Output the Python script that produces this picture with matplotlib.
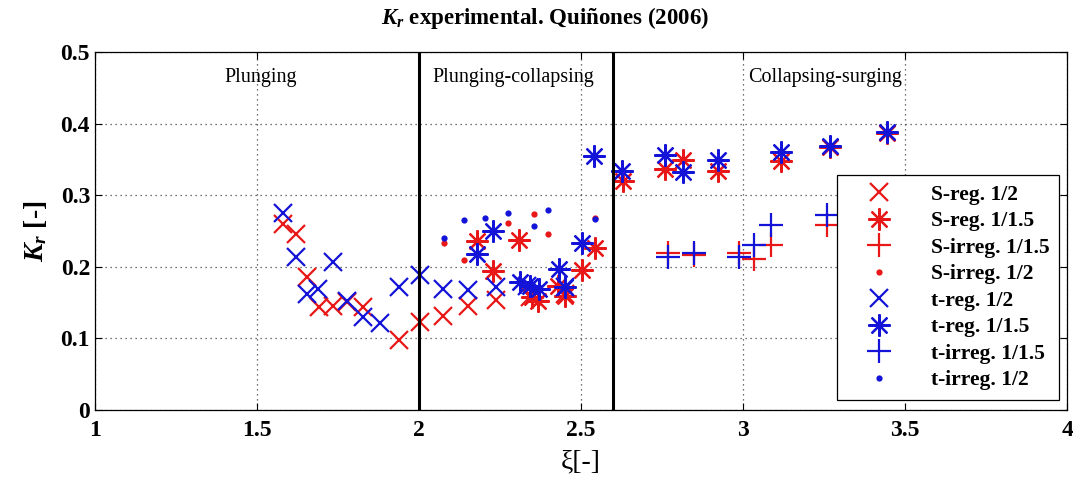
import matplotlib
matplotlib.use("Agg")
import matplotlib.pyplot as plt

plt.rcParams['font.family'] = ['Liberation Serif', 'DejaVu Serif']
plt.rcParams['mathtext.fontset'] = 'custom'
plt.rcParams['mathtext.it'] = 'Liberation Serif:italic:bold'
plt.rcParams['mathtext.rm'] = 'Liberation Serif:bold'
plt.rcParams['mathtext.bf'] = 'Liberation Serif:bold'

# ---- data ----
sreg2_x = [1.581, 1.619, 1.653, 1.692, 1.736, 1.777, 1.828, 1.939, 2.003, 2.073, 2.152, 2.238, 2.343, 2.451]
sreg2_y = [0.260, 0.246, 0.186, 0.144, 0.145, 0.151, 0.144, 0.098, 0.123, 0.132, 0.146, 0.154, 0.158, 0.162]

sreg15_x = [2.178, 2.229, 2.310, 2.348, 2.368, 2.430, 2.451, 2.504, 2.543, 2.628, 2.759, 2.814, 2.924, 3.117, 3.269, 3.443]
sreg15_y = [0.236, 0.194, 0.237, 0.158, 0.153, 0.173, 0.160, 0.196, 0.227, 0.320, 0.337, 0.350, 0.334, 0.348, 0.367, 0.387]

sirr15_x = [2.769, 2.850, 2.986, 3.034, 3.085, 3.258]
sirr15_y = [0.219, 0.217, 0.220, 0.211, 0.231, 0.259]

sirr2_x = [2.078, 2.140, 2.276, 2.356, 2.397, 2.543]
sirr2_y = [0.233, 0.209, 0.261, 0.274, 0.246, 0.269]

treg2_x = [1.581, 1.619, 1.653, 1.689, 1.736, 1.777, 1.828, 1.880, 1.939, 2.003, 2.073, 2.152, 2.238, 2.332, 2.451]
treg2_y = [0.276, 0.2145, 0.1625, 0.1695, 0.2066, 0.153, 0.130, 0.121, 0.172, 0.188, 0.169, 0.168, 0.172, 0.174, 0.172]

treg15_x = [2.178, 2.229, 2.312, 2.343, 2.370, 2.432, 2.451, 2.504, 2.540, 2.625, 2.759, 2.814, 2.924, 3.117, 3.269, 3.443]
treg15_y = [0.218, 0.250, 0.179, 0.173, 0.169, 0.197, 0.172, 0.234, 0.355, 0.334, 0.357, 0.332, 0.350, 0.361, 0.369, 0.389]

tirr15_x = [2.769, 2.850, 2.986, 3.034, 3.085, 3.258]
tirr15_y = [0.2135, 0.219, 0.2135, 0.230, 0.258, 0.272]

tirr2_x = [2.078, 2.140, 2.205, 2.276, 2.356, 2.397, 2.543]
tirr2_y = [0.241, 0.265, 0.269, 0.275, 0.257, 0.280, 0.267]

labels = ['S-reg. 1/2', 'S-reg. 1/1.5', 'S-irreg. 1/1.5', 'S-irreg. 1/2',
          't-reg. 1/2', 't-reg. 1/1.5', 't-irreg. 1/1.5', 't-irreg. 1/2']
xticks = [1, 1.5, 2, 2.5, 3, 3.5, 4]
xticklabels = ['1', '1.5', '2', '2.5', '3', '3.5', '4']
yticks = [0, 0.1, 0.2, 0.3, 0.4, 0.5]
yticklabels = ['0', '0.1', '0.2', '0.3', '0.4', '0.5']
regimes = ['Plunging', 'Plunging-collapsing', 'Collapsing-surging']
regime_x = [1.40, 2.04, 3.015]
bounds = [2.0, 2.6]

RED = '#e81818'
BLUE = '#1414d8'
ast = (8, 2, 0)

fig = plt.figure(figsize=(10.73, 4.79), dpi=100)
ax = fig.add_axes([0.0885, 0.144, 0.906, 0.747])

mw = 1.6
ax.plot(sreg2_x, sreg2_y, ls='none', marker='x', ms=13, mew=mw, color=RED, label=labels[0])
ax.plot(sreg15_x, sreg15_y, ls='none', marker=ast, ms=16, mew=mw, color=RED, label=labels[1])
ax.plot(sirr15_x, sirr15_y, ls='none', marker='+', ms=17, mew=mw, color=RED, label=labels[2])
ax.plot(sirr2_x, sirr2_y, ls='none', marker='o', ms=4.5, mew=0, color=RED, label=labels[3])
ax.plot(treg2_x, treg2_y, ls='none', marker='x', ms=13, mew=mw, color=BLUE, label=labels[4])
ax.plot(treg15_x, treg15_y, ls='none', marker=ast, ms=16, mew=mw, color=BLUE, label=labels[5])
ax.plot(tirr15_x, tirr15_y, ls='none', marker='+', ms=17, mew=mw, color=BLUE, label=labels[6])
ax.plot(tirr2_x, tirr2_y, ls='none', marker='o', ms=4.5, mew=0, color=BLUE, label=labels[7])

for b in bounds:
    ax.axvline(b, color='black', lw=2.2)
for t, xx in zip(regimes, regime_x):
    ax.text(xx, 0.465, t, fontsize=14.5, ha='left', va='center')

ax.set_xlim(1, 4)
ax.set_ylim(0, 0.5)
ax.set_xticks(xticks)
ax.set_xticklabels(xticklabels, fontsize=17, fontweight='bold')
ax.set_yticks(yticks)
ax.set_yticklabels(yticklabels, fontsize=17, fontweight='bold')
ax.tick_params(axis='x', pad=7)
ax.tick_params(direction='in', top=True, right=True, length=5, width=0.8)
ax.grid(True, ls=(0, (1, 3)), color='#444444', lw=0.9)
for s in ax.spines.values():
    s.set_linewidth(0.9)

ax.set_xlabel('ξ[-]', fontsize=20, labelpad=6)
ax.set_ylabel('$K_r$ [-]', fontsize=20, fontweight='bold', labelpad=8)
fig.text(545 / 1073, 1 - 18 / 479, '$K_r$ experimental. Quiñones (2006)', fontsize=16.5,
         fontweight='bold', ha='center', va='center')

leg = ax.legend(loc='lower right', bbox_to_anchor=(0.992, 0.028), fancybox=False,
                edgecolor='black', framealpha=1, prop={'weight': 'bold', 'size': 15.5},
                labelspacing=0.3, handlelength=3.0, handletextpad=0.9, borderpad=0.45,
                borderaxespad=0)
leg.get_frame().set_linewidth(0.9)

fig.savefig('out.png', dpi=100)
